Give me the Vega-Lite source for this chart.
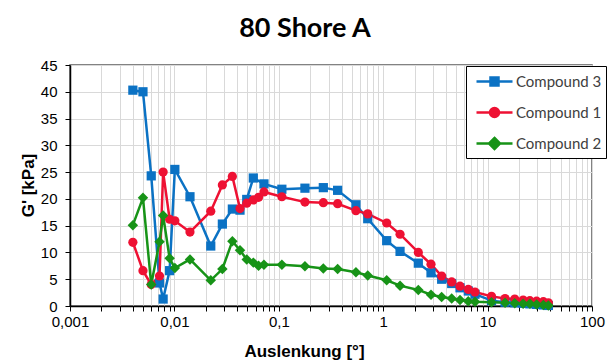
{
  "$schema": "https://vega.github.io/schema/vega-lite/v6.json",
  "width": 522,
  "height": 241,
  "autosize": {"type": "none"},
  "padding": {"left": 70, "top": 65, "right": 18, "bottom": 54},
  "background": "white",
  "title": {
    "text": "80 Shore A",
    "font": "Lato",
    "fontSize": 27,
    "fontWeight": "bold",
    "color": "black",
    "anchor": "middle",
    "frame": "group",
    "dx": -26,
    "offset": 15
  },
  "config": {
    "view": {"stroke": "#595959", "strokeWidth": 1.5}
  },
  "data": {
    "values": [
      {"compound": "Compound 3", "strain": 0.004, "G": 40.3},
      {"compound": "Compound 3", "strain": 0.005, "G": 40.0},
      {"compound": "Compound 3", "strain": 0.006, "G": 24.3},
      {"compound": "Compound 3", "strain": 0.0072, "G": 4.3},
      {"compound": "Compound 3", "strain": 0.0078, "G": 1.3},
      {"compound": "Compound 3", "strain": 0.009, "G": 6.6},
      {"compound": "Compound 3", "strain": 0.0101, "G": 25.5},
      {"compound": "Compound 3", "strain": 0.0141, "G": 20.4},
      {"compound": "Compound 3", "strain": 0.0223, "G": 11.2},
      {"compound": "Compound 3", "strain": 0.0288, "G": 15.3},
      {"compound": "Compound 3", "strain": 0.0359, "G": 18.1},
      {"compound": "Compound 3", "strain": 0.0425, "G": 17.9},
      {"compound": "Compound 3", "strain": 0.0493, "G": 19.9},
      {"compound": "Compound 3", "strain": 0.057, "G": 23.9},
      {"compound": "Compound 3", "strain": 0.0721, "G": 22.8},
      {"compound": "Compound 3", "strain": 0.107, "G": 21.8},
      {"compound": "Compound 3", "strain": 0.178, "G": 22.0},
      {"compound": "Compound 3", "strain": 0.267, "G": 22.1},
      {"compound": "Compound 3", "strain": 0.366, "G": 21.6},
      {"compound": "Compound 3", "strain": 0.548, "G": 18.9},
      {"compound": "Compound 3", "strain": 0.711, "G": 16.3},
      {"compound": "Compound 3", "strain": 1.08, "G": 12.2},
      {"compound": "Compound 3", "strain": 1.45, "G": 10.2},
      {"compound": "Compound 3", "strain": 2.17, "G": 8.0},
      {"compound": "Compound 3", "strain": 2.87, "G": 6.2},
      {"compound": "Compound 3", "strain": 3.63, "G": 5.0},
      {"compound": "Compound 3", "strain": 4.53, "G": 4.2},
      {"compound": "Compound 3", "strain": 5.44, "G": 3.4},
      {"compound": "Compound 3", "strain": 6.53, "G": 2.8},
      {"compound": "Compound 3", "strain": 7.57, "G": 2.2},
      {"compound": "Compound 3", "strain": 10.9, "G": 1.0},
      {"compound": "Compound 3", "strain": 14.7, "G": 0.7},
      {"compound": "Compound 3", "strain": 18.2, "G": 0.6},
      {"compound": "Compound 3", "strain": 21.9, "G": 0.5},
      {"compound": "Compound 3", "strain": 25.4, "G": 0.4},
      {"compound": "Compound 3", "strain": 29.5, "G": 0.3},
      {"compound": "Compound 3", "strain": 34.2, "G": 0.2},
      {"compound": "Compound 3", "strain": 38.2, "G": 0.1},

      {"compound": "Compound 1", "strain": 0.004, "G": 11.9},
      {"compound": "Compound 1", "strain": 0.005, "G": 6.6},
      {"compound": "Compound 1", "strain": 0.006, "G": 4.0},
      {"compound": "Compound 1", "strain": 0.0072, "G": 5.6},
      {"compound": "Compound 1", "strain": 0.0078, "G": 25.0},
      {"compound": "Compound 1", "strain": 0.009, "G": 16.2},
      {"compound": "Compound 1", "strain": 0.0101, "G": 15.9},
      {"compound": "Compound 1", "strain": 0.0141, "G": 13.8},
      {"compound": "Compound 1", "strain": 0.0223, "G": 17.7},
      {"compound": "Compound 1", "strain": 0.0288, "G": 22.6},
      {"compound": "Compound 1", "strain": 0.0359, "G": 24.2},
      {"compound": "Compound 1", "strain": 0.0425, "G": 18.2},
      {"compound": "Compound 1", "strain": 0.0493, "G": 19.2},
      {"compound": "Compound 1", "strain": 0.057, "G": 19.8},
      {"compound": "Compound 1", "strain": 0.064, "G": 20.3},
      {"compound": "Compound 1", "strain": 0.0721, "G": 21.3},
      {"compound": "Compound 1", "strain": 0.107, "G": 20.4},
      {"compound": "Compound 1", "strain": 0.178, "G": 19.4},
      {"compound": "Compound 1", "strain": 0.267, "G": 19.3},
      {"compound": "Compound 1", "strain": 0.366, "G": 19.1},
      {"compound": "Compound 1", "strain": 0.548, "G": 17.8},
      {"compound": "Compound 1", "strain": 0.711, "G": 17.2},
      {"compound": "Compound 1", "strain": 1.08, "G": 15.5},
      {"compound": "Compound 1", "strain": 1.45, "G": 13.4},
      {"compound": "Compound 1", "strain": 2.17, "G": 10.0},
      {"compound": "Compound 1", "strain": 2.87, "G": 7.8},
      {"compound": "Compound 1", "strain": 3.63, "G": 5.6},
      {"compound": "Compound 1", "strain": 4.53, "G": 4.5},
      {"compound": "Compound 1", "strain": 5.44, "G": 3.7},
      {"compound": "Compound 1", "strain": 6.53, "G": 3.1},
      {"compound": "Compound 1", "strain": 7.57, "G": 2.6},
      {"compound": "Compound 1", "strain": 10.9, "G": 1.8},
      {"compound": "Compound 1", "strain": 14.7, "G": 1.4},
      {"compound": "Compound 1", "strain": 18.2, "G": 1.3},
      {"compound": "Compound 1", "strain": 21.9, "G": 1.1},
      {"compound": "Compound 1", "strain": 25.4, "G": 1.0},
      {"compound": "Compound 1", "strain": 29.5, "G": 0.9},
      {"compound": "Compound 1", "strain": 34.2, "G": 0.8},
      {"compound": "Compound 1", "strain": 38.2, "G": 0.6},

      {"compound": "Compound 2", "strain": 0.004, "G": 15.1},
      {"compound": "Compound 2", "strain": 0.005, "G": 20.2},
      {"compound": "Compound 2", "strain": 0.006, "G": 4.0},
      {"compound": "Compound 2", "strain": 0.0072, "G": 12.0},
      {"compound": "Compound 2", "strain": 0.0078, "G": 16.9},
      {"compound": "Compound 2", "strain": 0.009, "G": 8.9},
      {"compound": "Compound 2", "strain": 0.0101, "G": 7.1},
      {"compound": "Compound 2", "strain": 0.0141, "G": 8.7},
      {"compound": "Compound 2", "strain": 0.0223, "G": 4.8},
      {"compound": "Compound 2", "strain": 0.0288, "G": 6.9},
      {"compound": "Compound 2", "strain": 0.0359, "G": 12.1},
      {"compound": "Compound 2", "strain": 0.0425, "G": 10.4},
      {"compound": "Compound 2", "strain": 0.0493, "G": 8.7},
      {"compound": "Compound 2", "strain": 0.057, "G": 8.1},
      {"compound": "Compound 2", "strain": 0.064, "G": 7.5},
      {"compound": "Compound 2", "strain": 0.0721, "G": 7.7},
      {"compound": "Compound 2", "strain": 0.107, "G": 7.7},
      {"compound": "Compound 2", "strain": 0.178, "G": 7.4},
      {"compound": "Compound 2", "strain": 0.267, "G": 7.0},
      {"compound": "Compound 2", "strain": 0.366, "G": 6.9},
      {"compound": "Compound 2", "strain": 0.548, "G": 6.3},
      {"compound": "Compound 2", "strain": 0.711, "G": 5.7},
      {"compound": "Compound 2", "strain": 1.08, "G": 4.8},
      {"compound": "Compound 2", "strain": 1.45, "G": 3.8},
      {"compound": "Compound 2", "strain": 2.17, "G": 3.0},
      {"compound": "Compound 2", "strain": 2.87, "G": 2.1},
      {"compound": "Compound 2", "strain": 3.63, "G": 1.7},
      {"compound": "Compound 2", "strain": 4.53, "G": 1.4},
      {"compound": "Compound 2", "strain": 5.44, "G": 1.1},
      {"compound": "Compound 2", "strain": 6.53, "G": 0.9},
      {"compound": "Compound 2", "strain": 7.57, "G": 0.8},
      {"compound": "Compound 2", "strain": 10.9, "G": 0.7},
      {"compound": "Compound 2", "strain": 14.7, "G": 0.6},
      {"compound": "Compound 2", "strain": 18.2, "G": 0.5},
      {"compound": "Compound 2", "strain": 21.9, "G": 0.4},
      {"compound": "Compound 2", "strain": 25.4, "G": 0.4},
      {"compound": "Compound 2", "strain": 29.5, "G": 0.3},
      {"compound": "Compound 2", "strain": 34.2, "G": 0.2},
      {"compound": "Compound 2", "strain": 38.2, "G": 0.1}
    ]
  },
  "encoding": {
    "x": {
      "field": "strain",
      "type": "quantitative",
      "scale": {"type": "log", "domain": [0.001, 100], "nice": false},
      "axis": {
        "title": "Auslenkung [°]",
        "values": [0.001, 0.002, 0.003, 0.004, 0.005, 0.006, 0.007, 0.008, 0.009,
                   0.01, 0.02, 0.03, 0.04, 0.05, 0.06, 0.07, 0.08, 0.09,
                   0.1, 0.2, 0.3, 0.4, 0.5, 0.6, 0.7, 0.8, 0.9,
                   1, 2, 3, 4, 5, 6, 7, 8, 9,
                   10, 20, 30, 40, 50, 60, 70, 80, 90, 100],
        "labelExpr": "datum.value == 0.001 ? '0,001' : datum.value == 0.01 ? '0,01' : datum.value == 0.1 ? '0,1' : datum.value == 1 ? '1' : datum.value == 10 ? '10' : datum.value == 100 ? '100' : ''",
        "grid": true,
        "gridColor": "#d9d9d9",
        "gridWidth": 1,
        "domainColor": "black",
        "domainWidth": 1.5,
        "tickColor": "black",
        "tickSize": 5,
        "tickWidth": 1,
        "labelFont": "Liberation Sans",
        "labelFontSize": 15,
        "labelColor": "black",
        "labelPadding": 3,
        "labelFlush": false,
        "labelOverlap": false,
        "titleFont": "Liberation Sans",
        "titleFontSize": 17,
        "titleFontWeight": "bold",
        "titleColor": "black",
        "titleX": 234,
        "titleY": 45,
        "titleBaseline": "middle",
        "titleAlign": "center"
      }
    },
    "y": {
      "field": "G",
      "type": "quantitative",
      "scale": {"domain": [0, 45], "nice": false},
      "axis": {
        "title": "G' [kPa]",
        "values": [0, 5, 10, 15, 20, 25, 30, 35, 40, 45],
        "grid": true,
        "gridColor": "#d9d9d9",
        "gridWidth": 1,
        "domainColor": "black",
        "domainWidth": 1.5,
        "tickColor": "black",
        "tickSize": 5,
        "labelFont": "Liberation Sans",
        "labelFontSize": 15,
        "labelColor": "black",
        "labelPadding": 8,
        "titleFont": "Liberation Sans",
        "titleFontSize": 17,
        "titleFontWeight": "bold",
        "titleColor": "black",
        "titleAngle": -90,
        "titleX": -42,
        "titleY": 120,
        "titleBaseline": "middle",
        "titleAlign": "center"
      }
    },
    "color": {
      "field": "compound",
      "type": "nominal",
      "scale": {
        "domain": ["Compound 3", "Compound 1", "Compound 2"],
        "range": ["#0B72C4", "#EE1133", "#179317"]
      },
      "legend": {
        "title": null,
        "orient": "none",
        "legendX": 396,
        "legendY": 1,
        "padding": 4,
        "strokeColor": "black",
        "fillColor": "white",
        "symbolSize": 400,
        "symbolStrokeWidth": 2.5,
        "symbolOffset": 13,
        "rowPadding": 10,
        "labelOffset": 10,
        "labelFont": "Lato",
        "labelFontSize": 15,
        "labelColor": "#404040",
        "encode": {
          "symbols": {
            "update": {
              "shape": {"signal": "datum.value === 'Compound 3' ? 'M-1.8,0H1.8M-0.4,-0.4H0.4V0.4H-0.4Z' : datum.value === 'Compound 1' ? 'M-1.8,0H1.8M-0.45,0A0.45,0.45 0 1,0 0.45,0A0.45,0.45 0 1,0 -0.45,0Z' : 'M-1.8,0H1.8M0,-0.55L0.55,0L0,0.55L-0.55,0Z'"},
              "fill": {"signal": "scale('color', datum.value)"},
              "stroke": {"signal": "scale('color', datum.value)"},
              "strokeWidth": {"value": 2.5},
              "opacity": {"value": 1}
            }
          }
        }
      }
    }
  },
  "layer": [
    {"mark": {"type": "line", "strokeWidth": 2.5}},
    {
      "transform": [{"filter": "datum.compound === 'Compound 3'"}],
      "mark": {"type": "point", "shape": "square", "filled": true, "size": 85, "opacity": 1}
    },
    {
      "transform": [{"filter": "datum.compound === 'Compound 1'"}],
      "mark": {"type": "point", "shape": "circle", "filled": true, "size": 85, "opacity": 1}
    },
    {
      "transform": [{"filter": "datum.compound === 'Compound 2'"}],
      "mark": {"type": "point", "shape": "diamond", "filled": true, "size": 110, "opacity": 1}
    }
  ]
}
